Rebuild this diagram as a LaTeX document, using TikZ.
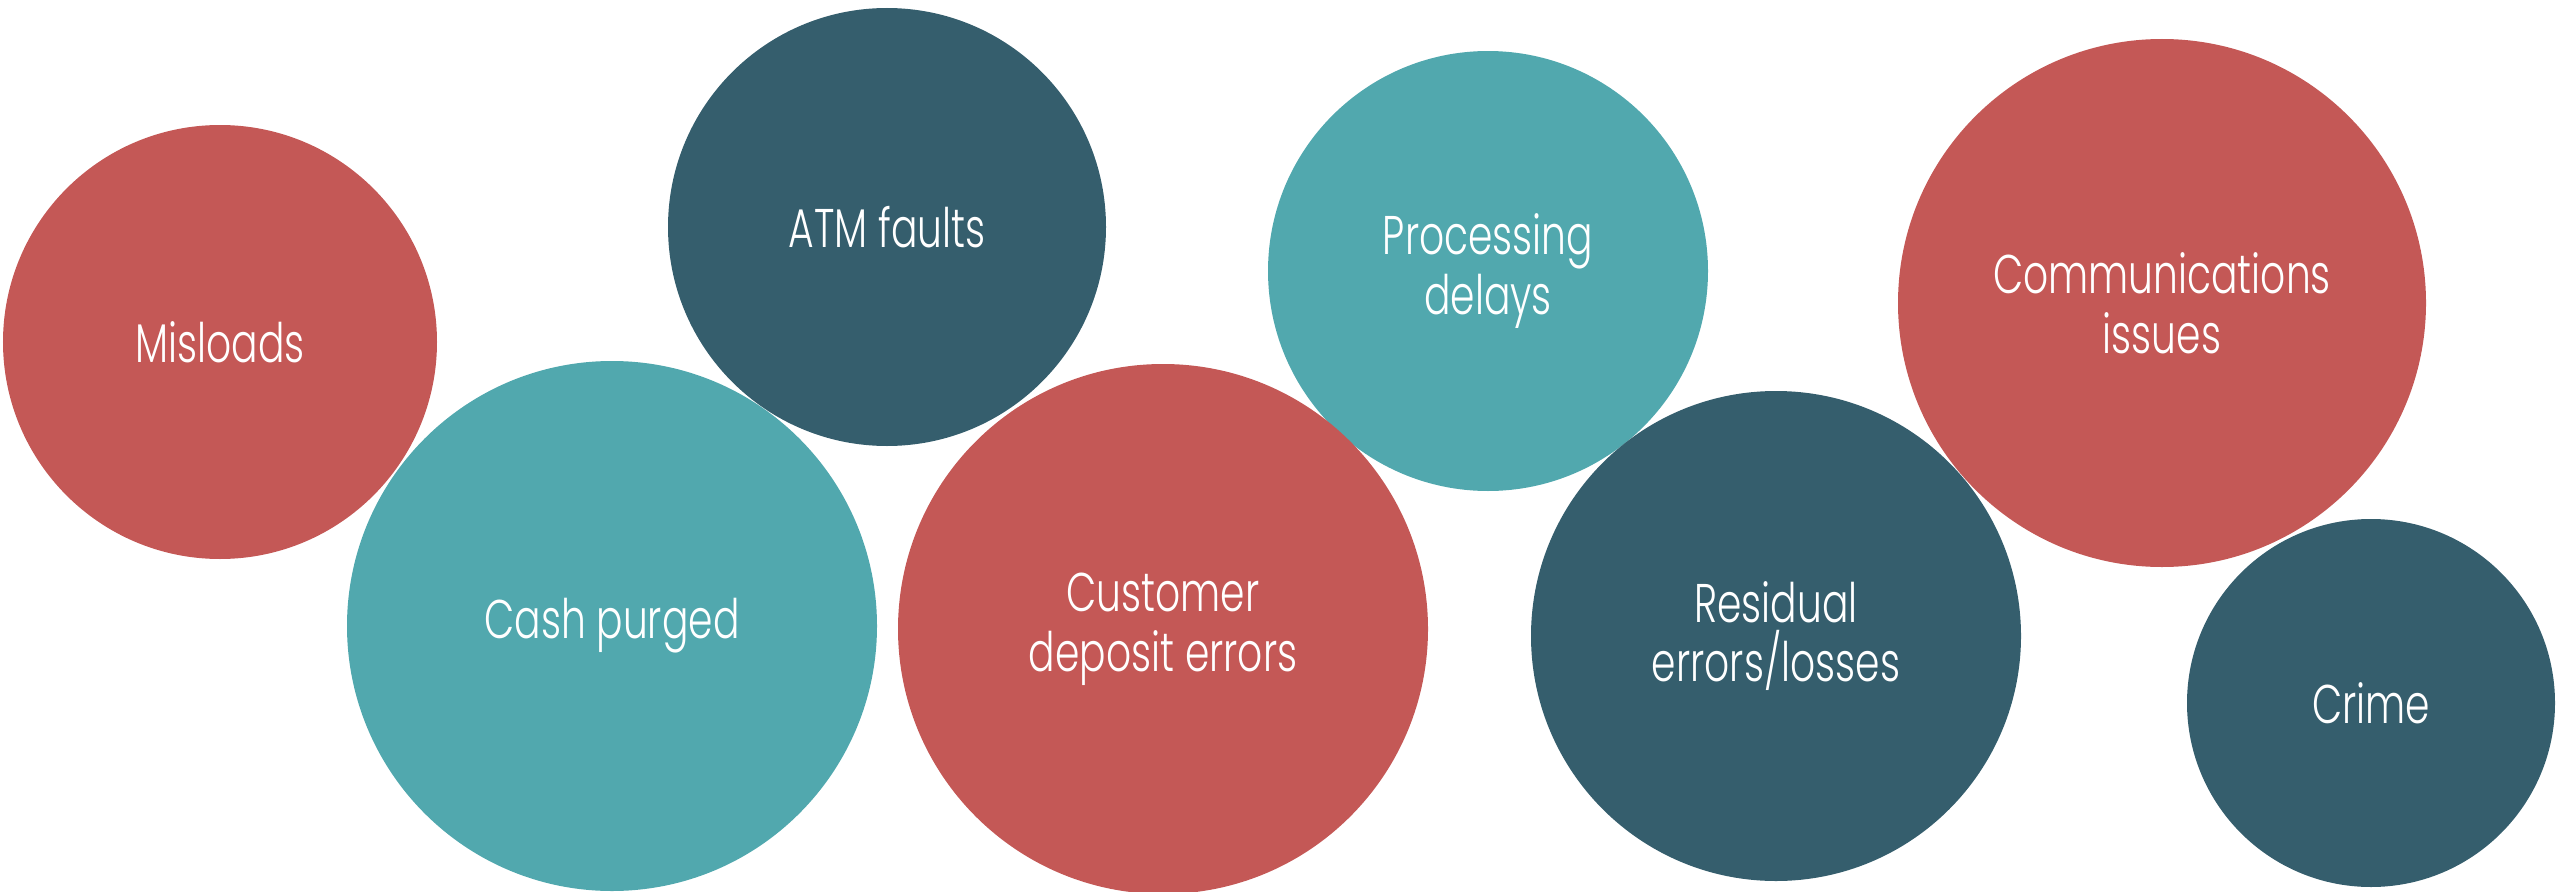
\documentclass[tikz,border=0pt]{standalone}
\usepackage{fontspec}
\setmainfont{Poppins Light}[FakeStretch=0.72]
\usepackage{tikz}
\usetikzlibrary{positioning}
\definecolor{bubblered}{HTML}{C45856}
\definecolor{bubbledark}{HTML}{355E6D}
\definecolor{bubbleteal}{HTML}{51A8AE}

\begin{document}
\begin{tikzpicture}[every node/.style={font=\fontsize{15.5}{17}\selectfont, text=white, align=center},
  bubble/.style={circle, fill=#1, draw=none, inner sep=0pt}]
\useasboundingbox (0,0) rectangle (25.6,8.91);

% Top row
\node[bubble=bubblered, minimum size=4.34cm] (misloads) at (2.20,5.49) {Misloads};
\node[bubble=bubbledark, minimum size=4.38cm] (atm) at (8.87,6.64) {ATM faults};
\node[bubble=bubbleteal, minimum size=4.40cm] (processing) at (14.88,6.20) {Processing\\delays};
\node[bubble=bubblered, minimum size=5.28cm] (comms) at (21.62,5.88) {Communications\\issues};

% Bottom row
\node[bubble=bubbleteal, minimum size=5.30cm] (cash) at (6.12,2.65) {Cash purged};
\node[bubble=bubblered, minimum size=5.30cm] (customer) at (11.63,2.62) {Customer\\deposit errors};
\node[bubble=bubbledark, minimum size=4.90cm] (residual) at (17.76,2.55) {Residual\\errors/losses};
\node[bubble=bubbledark, minimum size=3.68cm] (crime) at (23.71,1.88) {Crime};
\end{tikzpicture}
\end{document}
